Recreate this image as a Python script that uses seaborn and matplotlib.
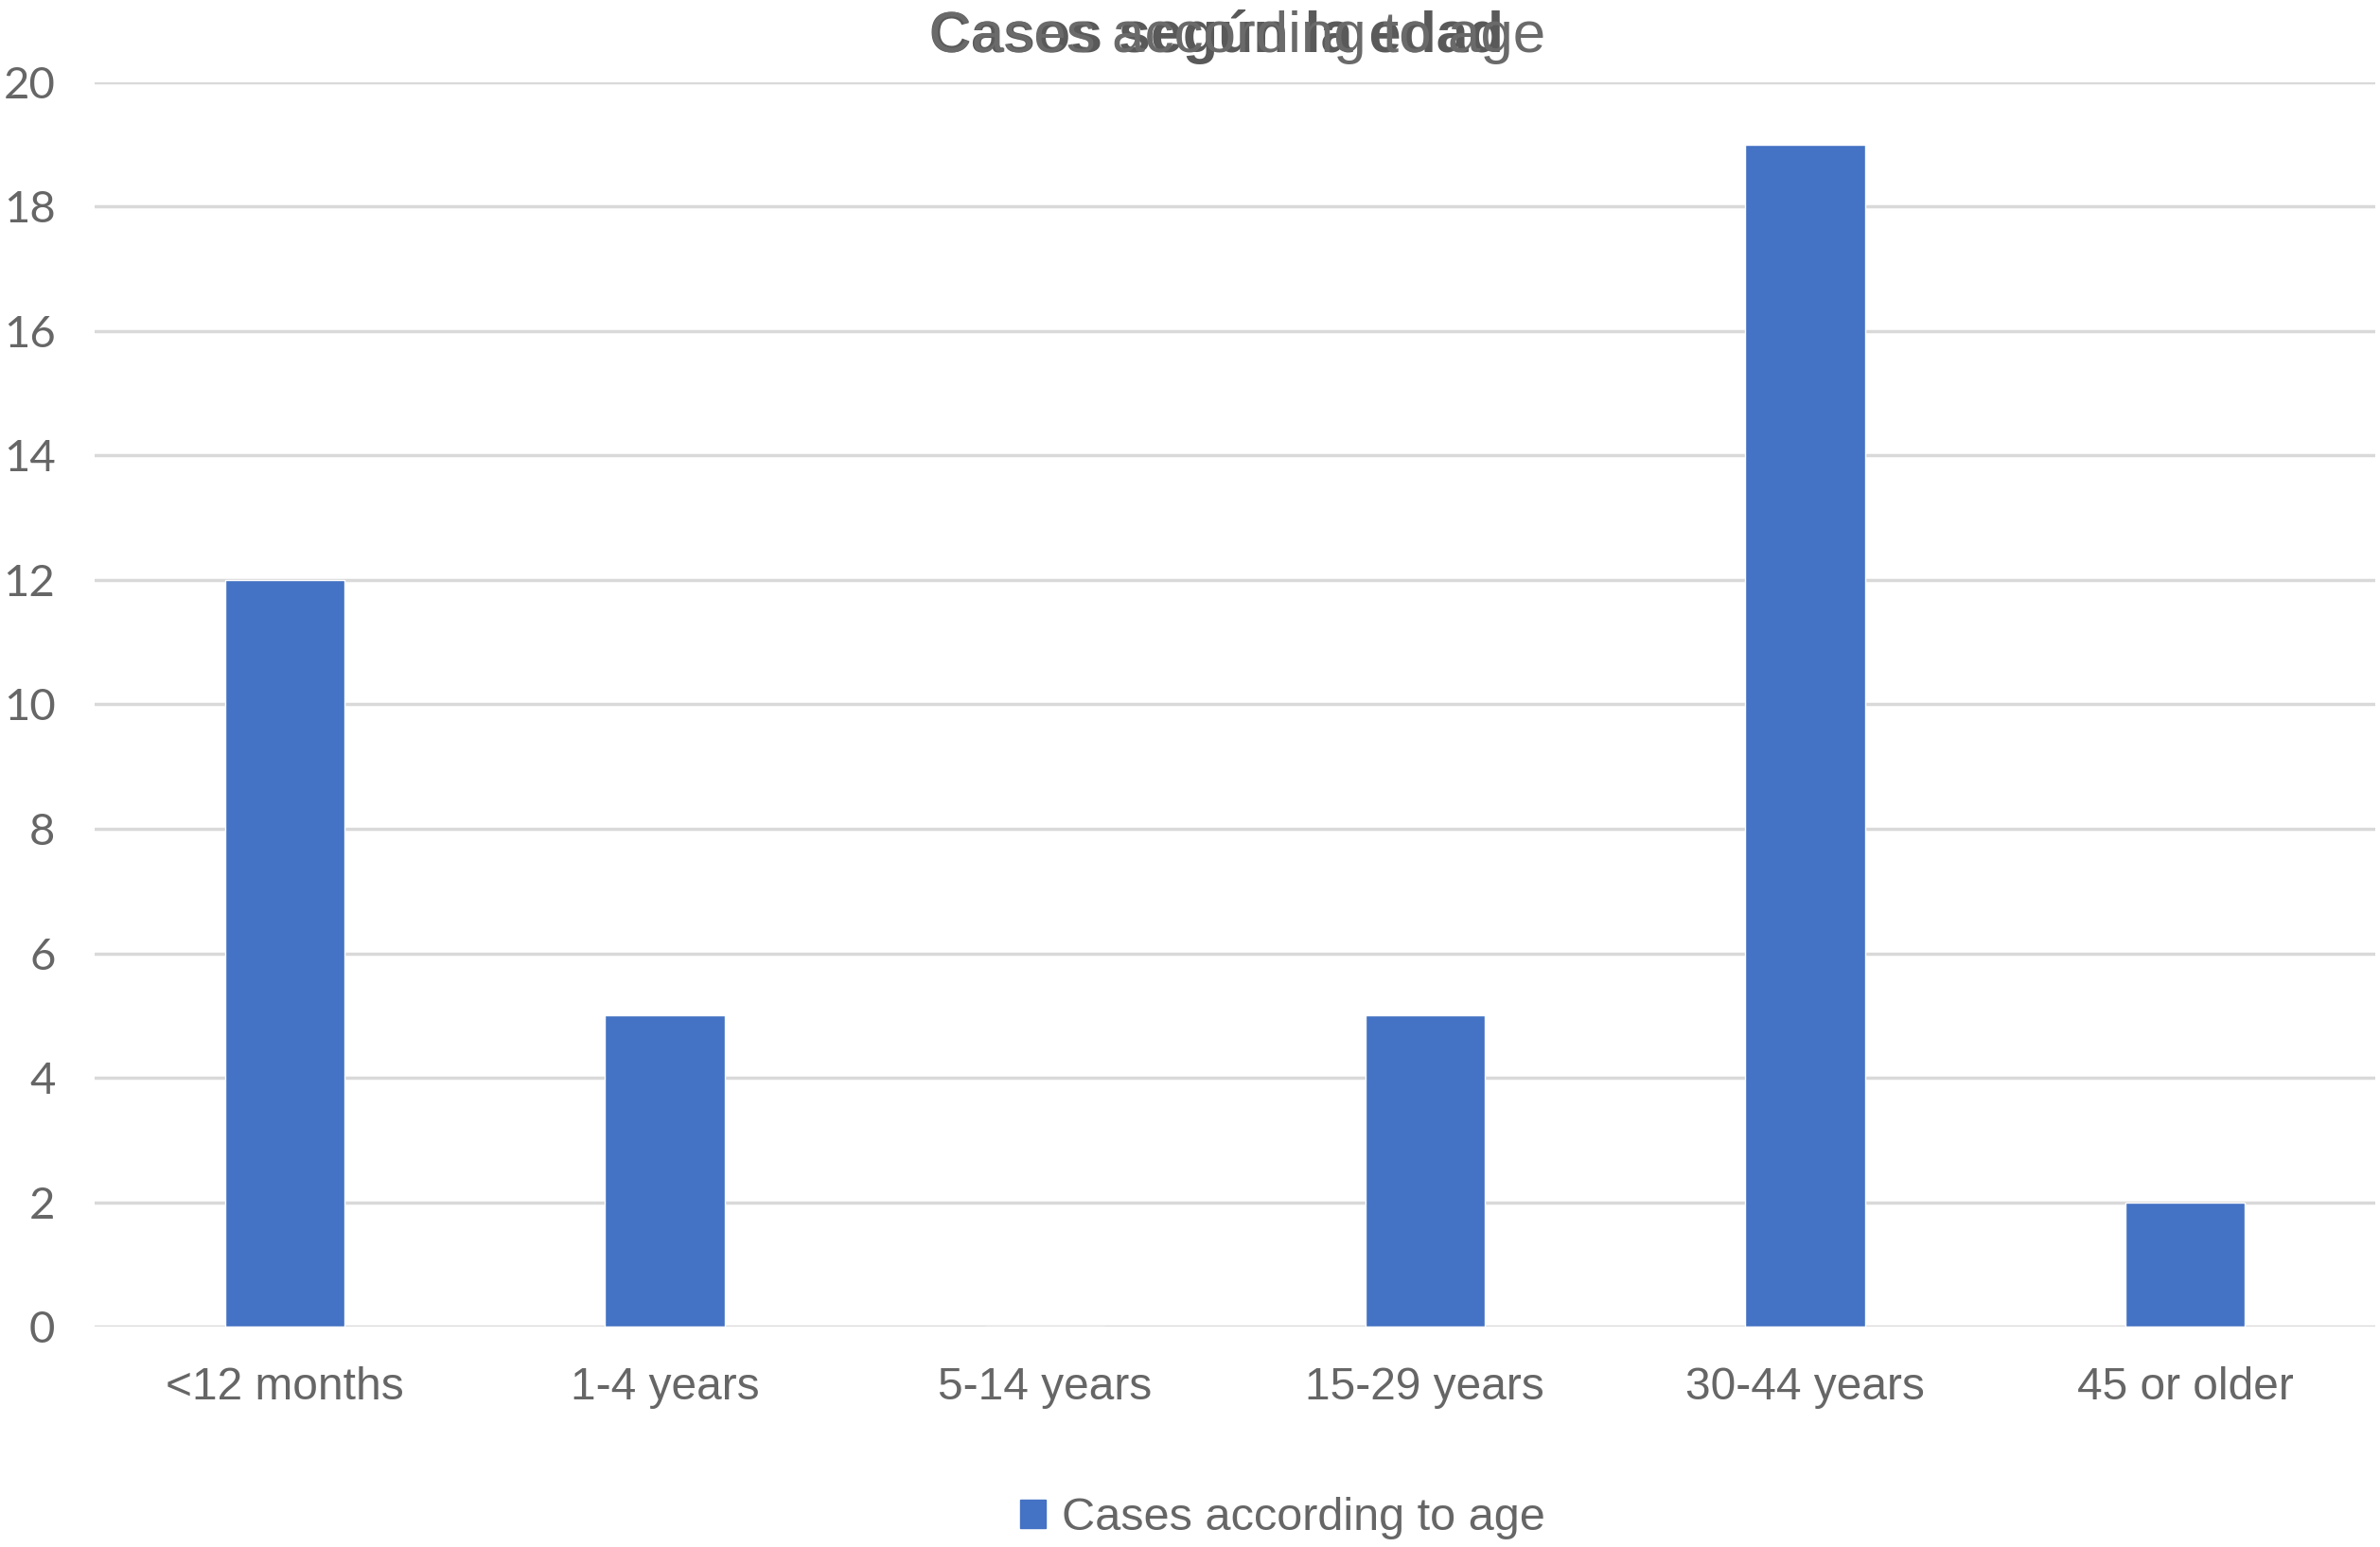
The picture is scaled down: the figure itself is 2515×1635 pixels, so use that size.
import matplotlib
matplotlib.use("Agg")
import matplotlib.pyplot as plt
import matplotlib.patches as mpatches
import seaborn as sns
import pandas as pd

categories = ["<12 months", "1-4 years", "5-14 years", "15-29 years", "30-44 years", "45 or older"]
cases = [12, 5, 0, 5, 19, 2]
series_name = "Cases according to age"
title_es = "Casos según la edad"
title_en = "Cases according to age"
y_ticks = [0, 2, 4, 6, 8, 10, 12, 14, 16, 18, 20]

sns.set_theme(style="white")
plt.rcParams['font.family'] = ['Liberation Sans', 'DejaVu Sans']

df = pd.DataFrame({"cat": categories, "val": cases})

fig = plt.figure(figsize=(25.15, 16.35), dpi=100)
ax = fig.add_axes([0.0398, 0.1425, 0.9582, 0.8043])

BAR = "#4472C4"
GRAY = "#666666"

sns.barplot(data=df, x="cat", y="val", color=BAR, width=0.315, ax=ax,
            saturation=1, zorder=3, legend=False)
if ax.get_legend() is not None:
    ax.get_legend().remove()

ax.set_xlim(-0.5, len(categories) - 0.5)
ax.set_ylim(0, 20)
ax.set_yticks(y_ticks)
ax.set_yticklabels([str(t) for t in y_ticks], family=['Lato', 'DejaVu Sans'],
                   fontsize=34, color=GRAY)
ax.set_xticks(range(len(categories)))
ax.set_xticklabels(categories, family=['Liberation Sans', 'DejaVu Sans'],
                   fontsize=34.5, color=GRAY)
ax.tick_params(axis='y', length=0, pad=30)
ax.tick_params(axis='x', length=0, pad=30)
ax.set_xlabel("")
ax.set_ylabel("")

ax.grid(axis='y', color="#d9d9d9", linewidth=2.5, zorder=0)
ax.set_axisbelow(True)
for s in ["top", "right", "left", "bottom"]:
    ax.spines[s].set_visible(False)

# overlapping titles, both left-aligned at the same x
title_x = 612 / 1568
t_es = fig.text(title_x, 0.976, title_es, ha='left', va='center', fontsize=40,
                fontweight='bold', color="#595959", family=['Liberation Sans', 'DejaVu Sans'])
t_en = fig.text(title_x, 0.976, title_en, ha='left', va='center', fontsize=40,
                color="#6a6a6a", family=['Liberation Sans', 'DejaVu Sans'])
fig.canvas.draw()
r = fig.canvas.get_renderer()
for t, target in [(t_es, 606), (t_en, 651)]:
    w = t.get_window_extent(renderer=r).width
    t.set_fontsize(40 * target / w)

handle = mpatches.Patch(color=BAR, label=series_name)
fig.legend([handle], [series_name], loc='center', bbox_to_anchor=(0.539, 0.0185),
           frameon=False, handlelength=0.55, handleheight=0.55,
           handletextpad=0.35, labelcolor=GRAY,
           prop={'family': ['Liberation Sans', 'DejaVu Sans'], 'size': 35})

fig.savefig("out.png", dpi=100, facecolor="white")
